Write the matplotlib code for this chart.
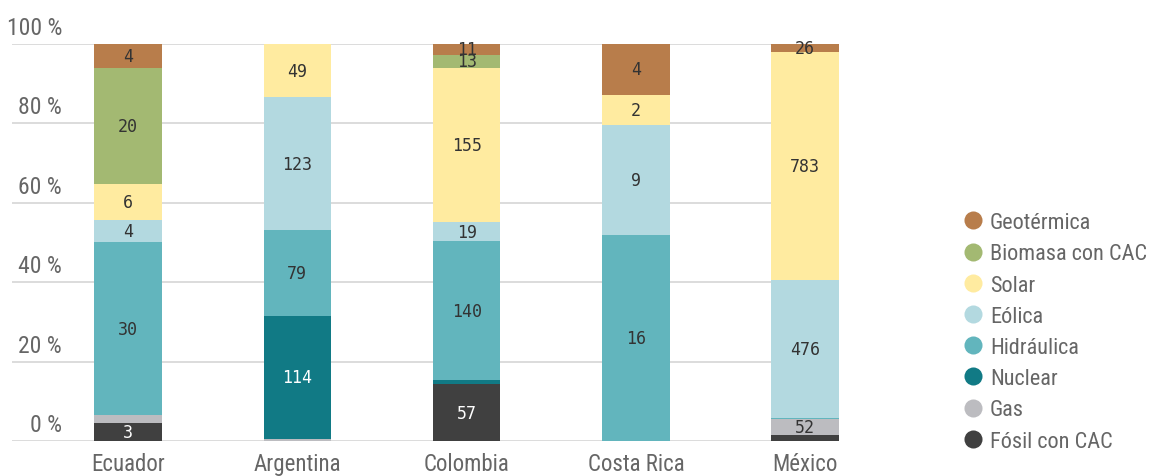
import matplotlib
matplotlib.use("Agg")
import matplotlib.pyplot as plt
from matplotlib.lines import Line2D
import numpy as np

countries = ["Ecuador", "Argentina", "Colombia", "Costa Rica", "México"]

# series, bottom to top of the stack
series = ["Fósil con CAC", "Gas", "Nuclear", "Hidráulica",
          "Eólica", "Solar", "Biomasa con CAC", "Geotérmica"]

fosil = [3.1, 0, 57, 0, 22]
gas = [1.3, 2, 0, 0, 52]
nuclear = [0, 114, 4, 0, 0]
hidraulica = [30, 79, 140, 16.2, 4]
eolica = [3.8, 123, 19, 8.6, 476]
solar = [6.2, 49, 155, 2.4, 783]
biomasa = [20, 0, 13, 0, 0]
geotermica = [4.1, 0, 11, 4.0, 26]

# segments drawn without a number
hidden = {("Ecuador", "Gas"), ("Argentina", "Gas"),
          ("Colombia", "Nuclear"), ("México", "Fósil con CAC"),
          ("México", "Hidráulica")}

y_ticks = [0, 20, 40, 60, 80, 100]

colors = ["#404040", "#bcbcc0", "#117a85", "#62b5bd",
          "#b3d9e0", "#ffeba0", "#a3b972", "#b87d4b"]
text_colors = ["white", "#333333", "white", "#333333",
               "#333333", "#333333", "#333333", "#333333"]

font_main = ["Liberation Sans Narrow", "Roboto Condensed", "DejaVu Sans"]
grey = "#666666"


def main() -> None:
    data = np.array([fosil, gas, nuclear, hidraulica,
                     eolica, solar, biomasa, geotermica], dtype=float)
    share = data / data.sum(axis=0) * 100

    fig = plt.figure(figsize=(11.5, 4.77), dpi=100)
    ax = fig.add_axes([12 / 1150, 1 - 442 / 477, 827 / 1150, 397 / 477])

    x = np.arange(len(countries))
    bottom = np.zeros(len(countries))
    for i, name in enumerate(series):
        ax.bar(x, share[i], 0.4, bottom=bottom, color=colors[i],
               zorder=3, linewidth=0)
        for j, c in enumerate(countries):
            if data[i, j] <= 0 or (c, name) in hidden:
                continue
            ax.text(x[j], bottom[j] + share[i, j] / 2,
                    f"{data[i, j]:.0f}", ha="center", va="center",
                    family="DejaVu Sans Mono", fontsize=12,
                    color=text_colors[i], zorder=4)
        bottom += share[i]

    ax.set_xlim(-0.686, 4.2)
    ax.set_ylim(0, 100)
    for v in y_ticks:
        ax.axhline(v, color="#d9d9d9", lw=1.3, zorder=1)
        ax.annotate(f"{v} %", xy=(0.0605, v),
                    xycoords=ax.get_yaxis_transform(),
                    xytext=(0, 7.2), textcoords="offset points",
                    ha="right", va="baseline", fontsize=17,
                    color=grey, family=font_main)
    ax.set_yticks([])
    ax.set_xticks(x)
    ax.set_xticklabels(countries, fontsize=16.5, color=grey,
                       family=font_main)
    ax.tick_params(axis="x", length=0, pad=8)
    for s in ax.spines.values():
        s.set_visible(False)

    handles = [Line2D([], [], marker="o", ls="", markersize=13,
                      markerfacecolor=colors[i], markeredgewidth=0)
               for i in range(len(series))][::-1]
    fig.legend(handles, series[::-1], loc="upper left",
               bbox_to_anchor=(950 / 1150, 1 - 202 / 477),
               frameon=False, handletextpad=0.2, labelspacing=0.46,
               prop={"family": font_main, "size": 16},
               labelcolor=grey, handlelength=1.1, borderpad=0)

    fig.savefig("out.png", dpi=100)


if __name__ == "__main__":
    main()
